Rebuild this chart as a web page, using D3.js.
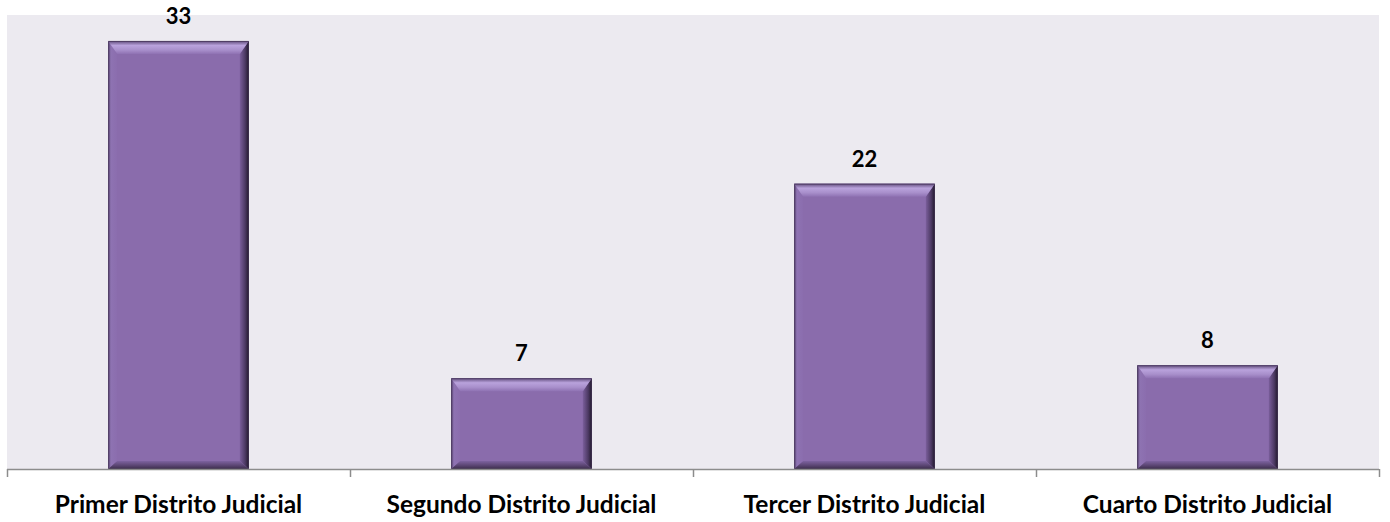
<!DOCTYPE html>
<html>
<head>
<meta charset="utf-8">
<script src="https://cdn.jsdelivr.net/npm/d3@7"></script>
<style>
  body { margin: 0; background: #fff; }
  text { font-family: Lato, "Open Sans", sans-serif; font-weight: bold; fill: #000; }
</style>
</head>
<body>
<svg id="chart" width="1390" height="522"></svg>
<script>
// data
var categories = ['Primer Distrito Judicial', 'Segundo Distrito Judicial', 'Tercer Distrito Judicial', 'Cuarto Distrito Judicial'];
var values = [33, 7, 22, 8];
var yMax = 35;

var svg = d3.select('#chart');
var plot = {left: 7, top: 15, right: 1379, bottom: 469};

var x = d3.scaleBand()
  .domain(categories)
  .range([plot.left, plot.right])
  .paddingInner(0.59)
  .paddingOuter(0.295);

var y = d3.scaleLinear()
  .domain([0, yMax])
  .range([plot.bottom, plot.top]);

// plot background
svg.append('rect')
  .attr('x', plot.left).attr('y', plot.top)
  .attr('width', plot.right - plot.left)
  .attr('height', plot.bottom - plot.top)
  .attr('fill', '#ECEAF0');

var defs = svg.append('defs');
function grad(id, x2, y2, stops) {
  var g = defs.append('linearGradient').attr('id', id)
    .attr('x1', 0).attr('y1', 0).attr('x2', x2).attr('y2', y2);
  stops.forEach(function(s) {
    g.append('stop').attr('offset', s[0]).attr('stop-color', s[1]);
  });
}
grad('gTop', 0, 1, [[0, '#5f4a7a'], [0.35, '#b9a2dc'], [0.7, '#a88fcb'], [1, '#8f72b3']]);
grad('gLeft', 1, 0, [[0, '#5a4573'], [0.3, '#8e73b2'], [1, '#8b6dae']]);
grad('gRight', 1, 0, [[0, '#7a5e9b'], [0.6, '#4c3963'], [1, '#21182b']]);
grad('gBottom', 0, 1, [[0, '#7d62a0'], [0.6, '#58436f'], [1, '#3b2c4c']]);

var bars = svg.append('g').selectAll('g')
  .data(values)
  .join('g');

bars.each(function(d, i) {
  var g = d3.select(this);
  var x0 = x(categories[i]), x1 = x0 + x.bandwidth();
  var y0 = y(d), y1 = y(0);
  var t = 13, s = 9, b = 8;
  g.append('rect').attr('x', x0).attr('y', y0)
    .attr('width', x1 - x0).attr('height', y1 - y0)
    .attr('fill', '#8a6cac');
  var pts = function(a) { return a.map(function(p) { return p.join(','); }).join(' '); };
  g.append('polygon').attr('fill', 'url(#gLeft)')
    .attr('points', pts([[x0, y0], [x0 + s, y0 + t], [x0 + s, y1 - b], [x0, y1]]));
  g.append('polygon').attr('fill', 'url(#gRight)')
    .attr('points', pts([[x1, y0], [x1 - s, y0 + t], [x1 - s, y1 - b], [x1, y1]]));
  g.append('polygon').attr('fill', 'url(#gBottom)')
    .attr('points', pts([[x0, y1], [x0 + s, y1 - b], [x1 - s, y1 - b], [x1, y1]]));
  g.append('polygon').attr('fill', 'url(#gTop)')
    .attr('points', pts([[x0, y0], [x1, y0], [x1 - s, y0 + t], [x0 + s, y0 + t]]));
  g.append('rect').attr('x', x0 + 0.5).attr('y', y0 + 0.5)
    .attr('width', x1 - x0 - 1).attr('height', y1 - y0 - 1)
    .attr('fill', 'none').attr('stroke', '#3c2d4d').attr('stroke-opacity', 0.6);
});

// value labels
svg.append('g').selectAll('text')
  .data(values)
  .join('text')
  .attr('x', function(d, i) { return x(categories[i]) + x.bandwidth() / 2; })
  .attr('y', function(d) { return y(d) - 17; })
  .attr('text-anchor', 'middle')
  .style('font-size', '22px')
  .text(function(d) { return d; });

// axis
var step = (plot.right - plot.left) / categories.length;
var axis = svg.append('g');
axis.append('line')
  .attr('x1', plot.left).attr('x2', plot.right)
  .attr('y1', plot.bottom + 0.5).attr('y2', plot.bottom + 0.5)
  .attr('stroke', '#8c8c8c').attr('stroke-width', 1.5);
axis.selectAll('line.tick')
  .data(d3.range(categories.length + 1))
  .join('line').attr('class', 'tick')
  .attr('x1', function(i) { return Math.round(plot.left + i * step) + 0.5; })
  .attr('x2', function(i) { return Math.round(plot.left + i * step) + 0.5; })
  .attr('y1', plot.bottom).attr('y2', plot.bottom + 8)
  .attr('stroke', '#8c8c8c').attr('stroke-width', 1.5);

axis.selectAll('text')
  .data(categories)
  .join('text')
  .attr('x', function(d) { return x(d) + x.bandwidth() / 2; })
  .attr('y', 513)
  .attr('text-anchor', 'middle')
  .style('font-size', '24.5px')
  .text(function(d) { return d; });
</script>
</body>
</html>
